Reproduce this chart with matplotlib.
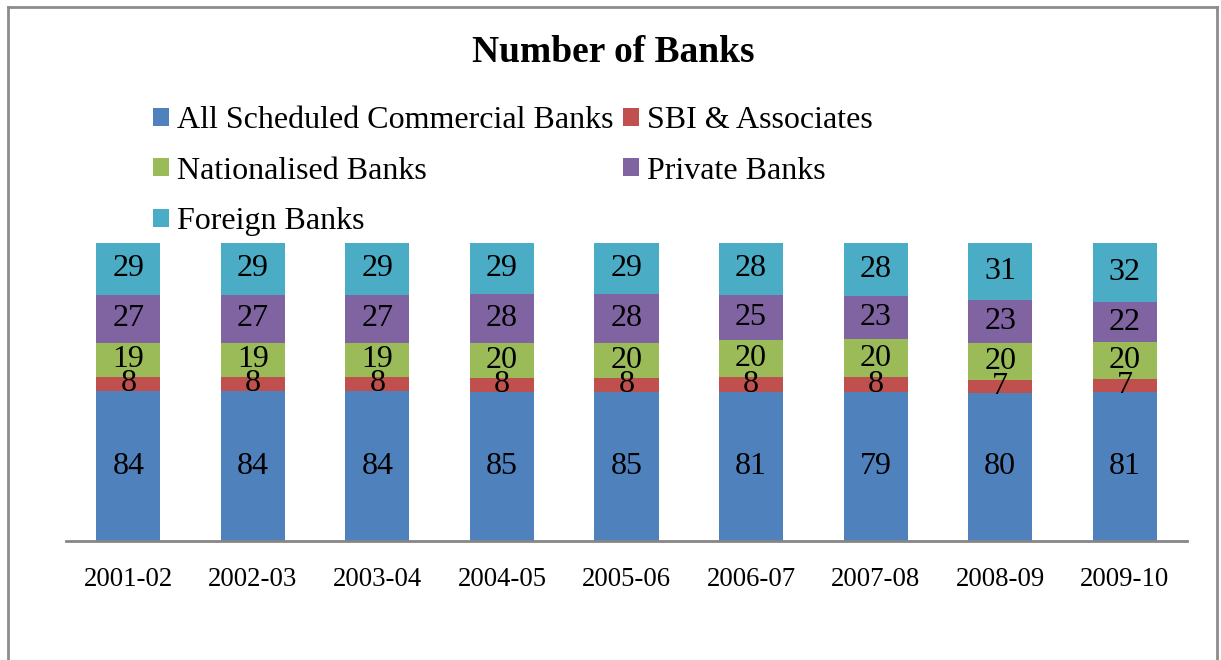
import numpy as np
import matplotlib.pyplot as plt
from matplotlib.patches import Patch
from matplotlib.lines import Line2D

years = ["2001-02", "2002-03", "2003-04", "2004-05", "2005-06",
         "2006-07", "2007-08", "2008-09", "2009-10"]
all_scheduled = [84, 84, 84, 85, 85, 81, 79, 80, 81]
sbi_associates = [8, 8, 8, 8, 8, 8, 8, 7, 7]
nationalised = [19, 19, 19, 20, 20, 20, 20, 20, 20]
private = [27, 27, 27, 28, 28, 25, 23, 23, 22]
foreign = [29, 29, 29, 29, 29, 28, 28, 31, 32]

series = [
    ("All Scheduled Commercial Banks", all_scheduled, "#4F81BD"),
    ("SBI & Associates", sbi_associates, "#C0504D"),
    ("Nationalised Banks", nationalised, "#9BBB59"),
    ("Private Banks", private, "#8064A2"),
    ("Foreign Banks", foreign, "#4BACC6"),
]

plt.rcParams["font.family"] = ["Liberation Serif", "DejaVu Serif"]

fig = plt.figure(figsize=(12.21, 6.6), dpi=100)
ax = fig.add_axes([66 / 1221, 1 - 541 / 660, 1121 / 1221, 298 / 660])

x = np.arange(len(years))
totals = np.sum([s[1] for s in series], axis=0)
bottom = np.zeros(len(years))
handles = []
for name, vals, color in series:
    vals = np.array(vals, dtype=float)
    pct = vals / totals * 100
    ax.bar(x, pct, 0.515, bottom=bottom, color=color, edgecolor=color, linewidth=0)
    for xi, b, p, v in zip(x, bottom, pct, vals):
        ax.text(xi, b + p / 2, f"{int(v)}", ha="center", va="center",
                fontsize=23, color="black")
    bottom += pct
    handles.append(Patch(facecolor=color, label=name))

ax.set_xlim(-0.5, len(years) - 0.5)
ax.set_ylim(0, 100)
ax.set_xticks(x)
ax.set_xticklabels(years, fontsize=19.3)
ax.tick_params(axis="x", length=0, pad=19)
ax.set_yticks([])
for side in ["left", "right", "top"]:
    ax.spines[side].set_visible(False)
ax.spines["bottom"].set_color("#868686")
ax.spines["bottom"].set_linewidth(2)

fig.text(613 / 1221, 1 - 52 / 660, "Number of Banks", ha="center", va="center",
         fontsize=27, fontweight="bold")

# row-major order in a two-column legend
order = [0, 2, 4, 1, 3]
fig.legend([handles[i] for i in order], [handles[i].get_label() for i in order],
           ncol=2, loc="upper left", bbox_to_anchor=(153 / 1221, 1 - 106 / 660),
           frameon=False, fontsize=23, handlelength=0.5, handleheight=0.5,
           handletextpad=0.25, columnspacing=0.3, labelspacing=0.68,
           borderaxespad=0, borderpad=0)

# outer frame
for xs, ys in [([8, 8], [0, 7]), ([8, 1217], [7, 7]), ([1217, 1217], [7, 0])]:
    fig.add_artist(Line2D([v / 1221 for v in xs], [1 - (v if v else 700) / 660 for v in ys],
                          color="#8C8C8C", linewidth=2, transform=fig.transFigure))

fig.savefig("out.png", dpi=100)
